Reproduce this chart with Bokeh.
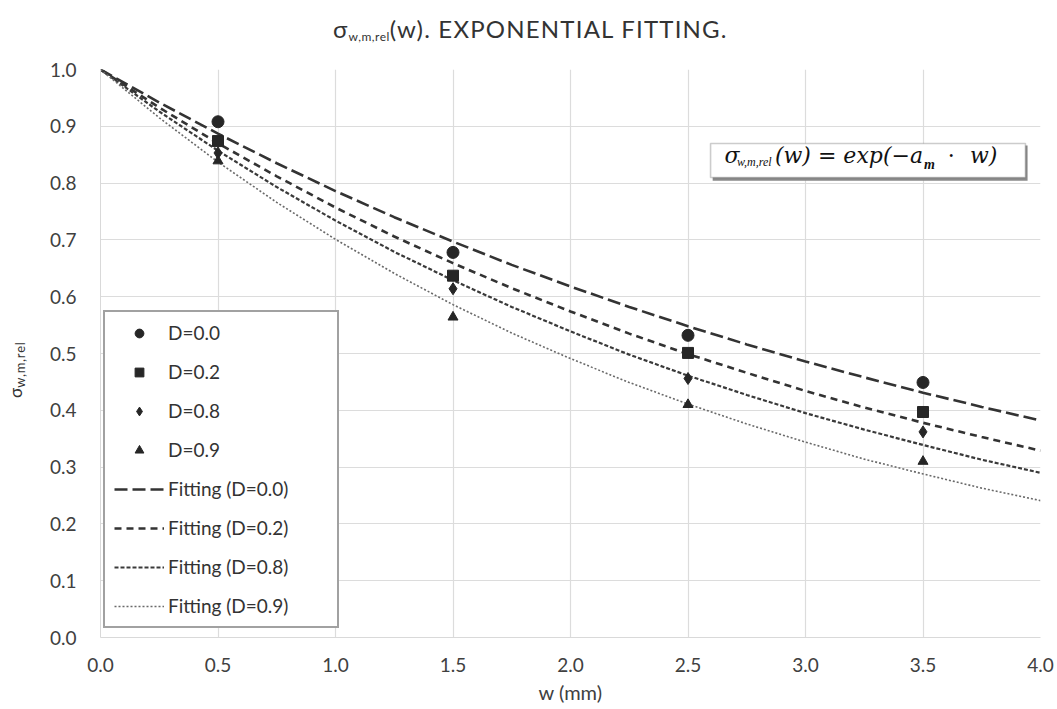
from bokeh.plotting import figure
from bokeh.models import (Legend, LegendItem, Label, BoxAnnotation, FixedTicker,
                          Range1d, NumeralTickFormatter, Div)
from bokeh.layouts import column, row
from bokeh.embed import file_html
from bokeh.resources import INLINE

# ---- data ----
w_meas = [0.5, 1.5, 2.5, 3.5]
sig_D00 = [0.908, 0.678, 0.532, 0.449]
sig_D02 = [0.874, 0.637, 0.501, 0.397]
sig_D08 = [0.853, 0.614, 0.456, 0.362]
sig_D09 = [0.839, 0.564, 0.410, 0.310]

w_fit = [0.0, 0.25, 0.5, 0.75, 1.0, 1.25, 1.5, 1.75, 2.0,
         2.25, 2.5, 2.75, 3.0, 3.25, 3.5, 3.75, 4.0]
fit_D00 = [1.000, 0.942, 0.887, 0.835, 0.786, 0.740, 0.697, 0.656, 0.618,
           0.582, 0.548, 0.516, 0.486, 0.458, 0.431, 0.406, 0.382]
fit_D02 = [1.000, 0.933, 0.870, 0.812, 0.757, 0.706, 0.659, 0.615, 0.574,
           0.535, 0.499, 0.466, 0.434, 0.405, 0.378, 0.353, 0.329]
fit_D08 = [1.000, 0.926, 0.857, 0.793, 0.734, 0.679, 0.629, 0.582, 0.539,
           0.498, 0.461, 0.427, 0.395, 0.366, 0.339, 0.313, 0.290]
fit_D09 = [1.000, 0.915, 0.837, 0.766, 0.701, 0.641, 0.586, 0.536, 0.491,
           0.449, 0.411, 0.376, 0.344, 0.314, 0.288, 0.263, 0.241]

x_ticks = [0.0, 0.5, 1.0, 1.5, 2.0, 2.5, 3.0, 3.5, 4.0]
y_ticks = [0.0, 0.1, 0.2, 0.3, 0.4, 0.5, 0.6, 0.7, 0.8, 0.9, 1.0]

labels_pts = ["D=0.0", "D=0.2", "D=0.8", "D=0.9"]
labels_fit = ["Fitting (D=0.0)", "Fitting (D=0.2)", "Fitting (D=0.8)", "Fitting (D=0.9)"]

FONT = "Lato"
INK = "#262626"

TITLE_H = 48
YLAB_W = 32

p = figure(width=1057 - YLAB_W, height=709 - TITLE_H,
           x_range=Range1d(0, 4), y_range=Range1d(0, 1),
           output_backend="svg", toolbar_location=None,
           min_border_left=100 - YLAB_W, min_border_right=17,
           min_border_top=69 - TITLE_H, min_border_bottom=72)
p.outline_line_color = None
p.background_fill_color = "white"

# axes
p.xaxis.ticker = FixedTicker(ticks=x_ticks)
p.yaxis.ticker = FixedTicker(ticks=y_ticks)
p.xaxis.formatter = NumeralTickFormatter(format="0.0")
p.yaxis.formatter = NumeralTickFormatter(format="0.0")
for ax in (p.xaxis, p.yaxis):
    ax.axis_line_color = "#d9d9d9"
    ax.major_tick_line_color = None
    ax.minor_tick_line_color = None
    ax.major_label_text_font = FONT
    ax.major_label_text_font_size = "19px"
    ax.major_label_text_color = "#404040"
p.yaxis.major_label_standoff = 18
p.xaxis.major_label_standoff = 14
p.xaxis.axis_label = "w (mm)"
p.xaxis.axis_label_text_font = FONT
p.xaxis.axis_label_text_font_size = "20px"
p.xaxis.axis_label_text_font_style = "normal"
p.xaxis.axis_label_text_color = "#404040"
p.xaxis.axis_label_standoff = 5

p.xgrid.grid_line_color = "#dcdcdc"
p.ygrid.grid_line_color = "#dcdcdc"
p.xgrid.grid_line_width = 1.2
p.ygrid.grid_line_width = 1.2

# fitted curves
f0 = p.line(w_fit, fit_D00, line_color="#333333", line_width=2.6, line_dash="13 5")
f1 = p.line(w_fit, fit_D02, line_color="#333333", line_width=2.6, line_dash="7 5")
f2 = p.line(w_fit, fit_D08, line_color="#3a3a3a", line_width=2.2, line_dash="4 2")
f3 = p.line(w_fit, fit_D09, line_color="#6a6a6a", line_width=1.6, line_dash="2 2")

# measured points
s0 = p.scatter(w_meas, sig_D00, marker="circle", size=12, color=INK)
s1 = p.scatter(w_meas, sig_D02, marker="square", size=11, color=INK)
s2 = p.scatter(w_meas, sig_D08, marker="diamond", size=12, color=INK)
s3 = p.scatter(w_meas, sig_D09, marker="triangle", size=10, color=INK)

legend = Legend(
    items=[LegendItem(label=labels_pts[0], renderers=[s0]),
           LegendItem(label=labels_pts[1], renderers=[s1]),
           LegendItem(label=labels_pts[2], renderers=[s2]),
           LegendItem(label=labels_pts[3], renderers=[s3]),
           LegendItem(label=labels_fit[0], renderers=[f0]),
           LegendItem(label=labels_fit[1], renderers=[f1]),
           LegendItem(label=labels_fit[2], renderers=[f2]),
           LegendItem(label=labels_fit[3], renderers=[f3])],
    location=(3, 9), padding=9, spacing=16, glyph_width=50, glyph_height=22,
    label_height=22, label_width=160, label_standoff=4, margin=0,
    border_line_color="#444444", border_line_width=2,
    label_text_font=FONT, label_text_font_size="19px", label_text_color="#333333",
    background_fill_color="white", background_fill_alpha=1.0)
p.add_layout(legend)


def lab(x, y, t, size, font, style="italic", color="#111111"):
    p.add_layout(Label(x=x, y=y, text=t, text_font=font, text_font_size=size,
                       text_font_style=style, text_color=color,
                       text_align="left", text_baseline="middle"))

# formula box with a soft shadow
p.add_layout(BoxAnnotation(left=2.605, right=3.945, top=0.8662, bottom=0.8040,
                           fill_color="#8a8a8a", fill_alpha=1.0, line_color=None))
p.add_layout(BoxAnnotation(left=2.596, right=3.936, top=0.8697, bottom=0.8099,
                           fill_color="white", fill_alpha=1.0,
                           line_color="#555555", line_width=1.6))
SERIF = "DejaVu Serif"
SUBF = "Liberation Serif"
lab(2.655, 0.8486, "σ", "22px", SERIF)
lab(2.708, 0.8380, "w,m,rel", "12px", SUBF)
lab(2.870, 0.8486, "(w) = exp(−a", "22px", SERIF)
lab(3.504, 0.8320, "m", "14px", SUBF, style="bold italic")
lab(3.605, 0.8486, "·", "22px", SERIF, style="normal")
lab(3.700, 0.8486, "w)", "22px", SERIF)

# title with subscript (HTML text)
title_div = Div(
    text=('<div style="margin-left:333px; margin-top:15px; font-family:Lato; '
          'font-size:24px; letter-spacing:1.2px; line-height:28px; color:#333333; '
          'white-space:nowrap;">'
          'σ<sub style="font-size:12px; letter-spacing:0.5px; vertical-align:-3px; '
          'line-height:0;">w,m,rel</sub>'
          '(w). EXPONENTIAL FITTING.</div>'),
    width=1057, height=TITLE_H, margin=0)

# rotated y-axis label with subscript (HTML text)
ylab_div = Div(
    text=('<div style="margin-left:6px; margin-top:%dpx; font-family:Lato; '
          'font-size:17px; line-height:20px; color:#333333; white-space:nowrap; '
          'transform:rotate(-90deg); transform-origin:0 0; width:90px;">'
          'σ<sub style="font-size:13px; letter-spacing:0.8px; vertical-align:-3px; '
          'line-height:0;">w,m,rel</sub></div>')
         % (398 - TITLE_H),
    width=YLAB_W, height=709 - TITLE_H, margin=0)

layout = column(title_div, row(ylab_div, p, spacing=0), spacing=0)

open("out.html", "w").write(file_html(layout, INLINE))
